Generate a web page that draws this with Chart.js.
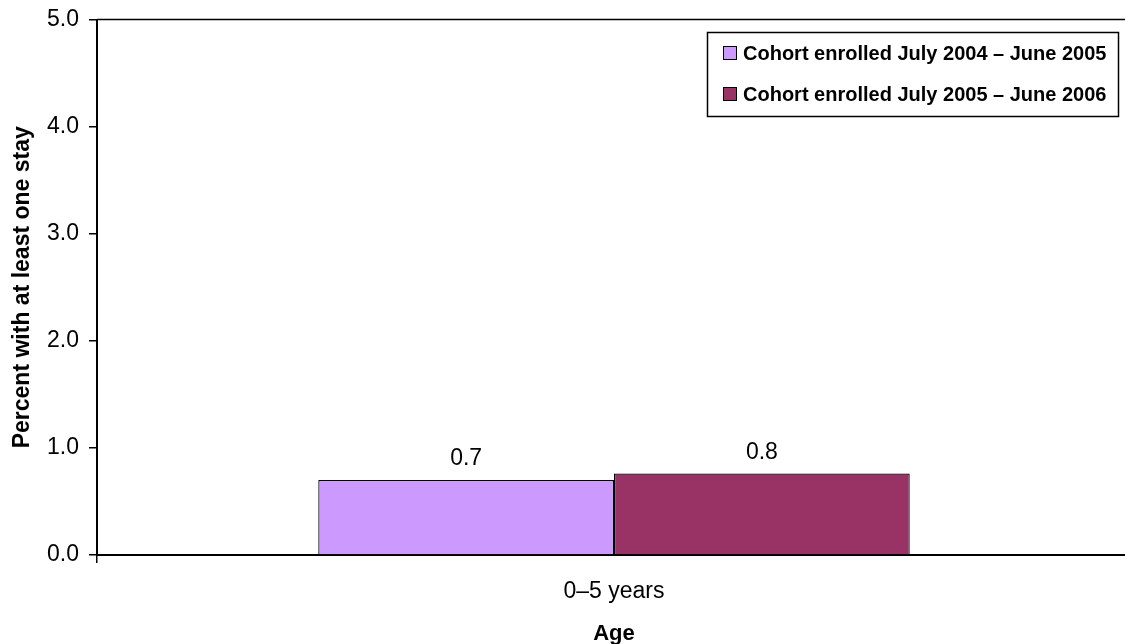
<!DOCTYPE html>
<html>
<head>
<meta charset="utf-8">
<script src="https://cdn.jsdelivr.net/npm/chart.js@4/dist/chart.umd.min.js"></script>
<style>
  html, body { margin: 0; padding: 0; background: #fff; overflow: hidden; }
  #wrap { width: 1131px; height: 644px; position: relative; }
</style>
</head>
<body>
<div id="wrap"><canvas id="chart"></canvas></div>
<script>
// Age groups on the x axis
const categories = ['0–5 years'];
// Percent of enrollees with at least one stay, by enrollment cohort
const cohort2004 = [0.70];
const cohort2005 = [0.76];
const seriesNames = ['Cohort enrolled July 2004 – June 2005', 'Cohort enrolled July 2005 – June 2006'];
const seriesColors = ['#CC99FF', '#993366'];
const yTicks = [0, 1, 2, 3, 4, 5];

const FONT = '"Liberation Sans", Arial, sans-serif';

// Value labels above each bar, one decimal place
const valueLabels = {
  id: 'valueLabels',
  afterDatasetsDraw(chart) {
    const ctx = chart.ctx;
    ctx.save();
    ctx.font = '23px ' + FONT;
    ctx.fillStyle = '#000';
    ctx.textAlign = 'center';
    ctx.textBaseline = 'middle';
    chart.data.datasets.forEach((ds, i) => {
      chart.getDatasetMeta(i).data.forEach((bar, j) => {
        ctx.fillText(ds.data[j].toFixed(1), bar.x, bar.y - 21);
      });
    });
    ctx.restore();
  }
};

// Top border of the plot area and a boxed legend in the upper right
const frameAndLegend = {
  id: 'frameAndLegend',
  afterDraw(chart) {
    const ctx = chart.ctx;
    const a = chart.chartArea;
    ctx.save();
    ctx.strokeStyle = '#000';
    ctx.lineWidth = 1.5;
    ctx.beginPath();
    ctx.moveTo(a.left, a.top);
    ctx.lineTo(a.right, a.top);
    ctx.stroke();

    const bx = 707.5, by = 32.5, bw = 411, bh = 84;
    ctx.fillStyle = '#fff';
    ctx.fillRect(bx, by, bw, bh);
    ctx.lineWidth = 1.5;
    ctx.strokeRect(bx, by, bw, bh);

    ctx.font = 'bold 20px ' + FONT;
    ctx.textBaseline = 'middle';
    ctx.textAlign = 'left';
    const rows = [53, 94];
    chart.data.datasets.forEach((ds, i) => {
      const y = rows[i];
      ctx.fillStyle = ds.backgroundColor;
      ctx.fillRect(723.5, y - 6.5, 13, 13);
      ctx.lineWidth = 1;
      ctx.strokeStyle = '#000';
      ctx.strokeRect(723.5, y - 6.5, 13, 13);
      ctx.fillStyle = '#000';
      ctx.fillText(ds.label, 743, y + 1);
    });
    ctx.restore();
  }
};

new Chart(document.getElementById('chart'), {
  type: 'bar',
  data: {
    labels: categories,
    datasets: [
      { label: seriesNames[0], data: cohort2004, backgroundColor: seriesColors[0], borderColor: '#000', borderWidth: 1.2 },
      { label: seriesNames[1], data: cohort2005, backgroundColor: seriesColors[1], borderColor: '#000', borderWidth: 1.2 }
    ]
  },
  options: {
    responsive: true,
    maintainAspectRatio: false,
    animation: false,
    layout: { padding: { top: 19.5, right: 0, left: 0, bottom: 0 } },
    datasets: { bar: { categoryPercentage: 0.572, barPercentage: 1.0 } },
    plugins: {
      legend: { display: false },
      tooltip: { enabled: false }
    },
    scales: {
      x: {
        offset: true,
        grid: { display: true, offset: true, drawOnChartArea: false, color: '#000', tickLength: 8, lineWidth: 1.5 },
        border: { display: true, color: '#000', width: 2 },
        ticks: { color: '#000', font: { family: FONT, size: 23 }, padding: 15 },
        title: { display: true, text: 'Age', color: '#000', font: { family: FONT, size: 22, weight: 'bold' }, padding: { top: 4, bottom: -3 } },
        afterFit(scale) { scale.height = 89; scale.paddingLeft = 0; scale.paddingRight = 0; }
      },
      y: {
        min: 0,
        max: 5,
        afterBuildTicks(scale) { scale.ticks = yTicks.map(v => ({ value: v })); },
        grid: { display: true, drawOnChartArea: false, color: '#000', tickLength: 8, lineWidth: 1.5 },
        border: { display: true, color: '#000', width: 2 },
        ticks: { color: '#000', font: { family: FONT, size: 23 }, padding: 10, callback: v => Number(v).toFixed(1) },
        title: { display: true, text: 'Percent with at least one stay', color: '#000', font: { family: FONT, size: 23, weight: 'bold' }, padding: { top: 9, bottom: 0 } },
        afterFit(scale) { scale.width = 97; scale.paddingTop = 0; scale.paddingBottom = 0; }
      }
    }
  },
  plugins: [valueLabels, frameAndLegend]
});
</script>
</body>
</html>
